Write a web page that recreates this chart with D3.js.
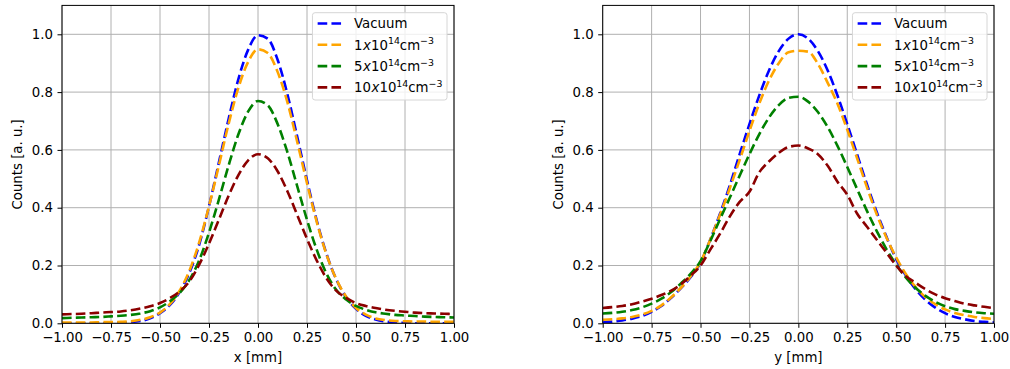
<!DOCTYPE html>
<html>
<head>
<meta charset="utf-8">
<script src="https://cdn.jsdelivr.net/npm/d3@7"></script>
<style>
  body { margin: 0; background: #fff; }
  svg { display: block; font-family: "DejaVu Sans", sans-serif; }
</style>
</head>
<body>
<div id="chart"></div>
<script>
// sample positions [mm], shared by both profiles
const positions = [
  -1.00, -0.95, -0.90, -0.85, -0.80, -0.75, -0.70, -0.65, -0.60, -0.55,
  -0.50, -0.45, -0.40, -0.35, -0.30, -0.25, -0.20, -0.15, -0.10, -0.05,
  0.00,
  0.05, 0.10, 0.15, 0.20, 0.25, 0.30, 0.35, 0.40, 0.45, 0.50,
  0.55, 0.60, 0.65, 0.70, 0.75, 0.80, 0.85, 0.90, 0.95, 1.00
];

// x profile (left panel)
const xVacuum = [
  0, 0, 0, 0, 0, 0.001, 0.002, 0.004, 0.008, 0.017,
  0.035, 0.063, 0.108, 0.175, 0.272, 0.405, 0.555, 0.707, 0.845, 0.947,
  0.997,
  0.985, 0.912, 0.793, 0.646, 0.495, 0.355, 0.239, 0.151, 0.09, 0.05,
  0.026, 0.013, 0.006, 0.003, 0.001, 0, 0, 0, 0, 0
];
const xDensity1 = [
  0.003, 0.003, 0.003, 0.003, 0.004, 0.004, 0.005, 0.007, 0.012, 0.021,
  0.037, 0.066, 0.113, 0.182, 0.28, 0.405, 0.545, 0.69, 0.815, 0.905,
  0.948,
  0.935, 0.87, 0.765, 0.628, 0.485, 0.35, 0.237, 0.152, 0.092, 0.053,
  0.03, 0.017, 0.011, 0.008, 0.007, 0.006, 0.006, 0.005, 0.005, 0.005
];
const xDensity5 = [
  0.018, 0.019, 0.02, 0.021, 0.022, 0.024, 0.026, 0.029, 0.034, 0.042,
  0.055, 0.076, 0.105, 0.15, 0.218, 0.314, 0.427, 0.546, 0.654, 0.733,
  0.769,
  0.754, 0.69, 0.592, 0.475, 0.358, 0.254, 0.171, 0.115, 0.082, 0.06,
  0.047, 0.038, 0.033, 0.029, 0.027, 0.025, 0.023, 0.022, 0.021, 0.02
];
const xDensity10 = [
  0.031, 0.032, 0.033, 0.035, 0.037, 0.039, 0.041, 0.045, 0.051, 0.059,
  0.07, 0.087, 0.11, 0.145, 0.203, 0.276, 0.358, 0.441, 0.513, 0.564,
  0.585,
  0.571, 0.526, 0.457, 0.375, 0.292, 0.217, 0.155, 0.112, 0.088, 0.07,
  0.06, 0.053, 0.047, 0.043, 0.04, 0.037, 0.035, 0.034, 0.033, 0.032
];

// y profile (right panel)
const yVacuum = [
  0.003, 0.006, 0.01, 0.016, 0.025, 0.04, 0.06, 0.088, 0.122, 0.16,
  0.21, 0.29, 0.38, 0.478, 0.585, 0.689, 0.788, 0.875, 0.942, 0.985,
  1.0,
  0.985, 0.942, 0.875, 0.788, 0.689, 0.585, 0.482, 0.386, 0.3, 0.222,
  0.165, 0.117, 0.081, 0.054, 0.035, 0.022, 0.014, 0.008, 0.005, 0.003
];
const yDensity1 = [
  0.012, 0.014, 0.017, 0.022, 0.03, 0.043, 0.062, 0.09, 0.123, 0.163,
  0.212, 0.29, 0.376, 0.468, 0.565, 0.665, 0.76, 0.84, 0.9, 0.938,
  0.943,
  0.94, 0.898, 0.832, 0.76, 0.67, 0.572, 0.472, 0.378, 0.297, 0.228,
  0.17, 0.125, 0.09, 0.066, 0.048, 0.036, 0.028, 0.022, 0.018, 0.015
];
const yDensity5 = [
  0.034, 0.036, 0.04, 0.046, 0.055, 0.068, 0.085, 0.108, 0.138, 0.172,
  0.215, 0.285, 0.361, 0.435, 0.511, 0.585, 0.654, 0.712, 0.755, 0.78,
  0.784,
  0.767, 0.731, 0.679, 0.614, 0.541, 0.465, 0.39, 0.32, 0.257, 0.203,
  0.158, 0.122, 0.095, 0.074, 0.059, 0.049, 0.043, 0.038, 0.035, 0.033
];
const yDensity10 = [
  0.053, 0.056, 0.06, 0.066, 0.075, 0.085, 0.098, 0.113, 0.135, 0.165,
  0.2, 0.255, 0.31, 0.37, 0.42, 0.455, 0.522, 0.56, 0.59, 0.61,
  0.615,
  0.605, 0.585, 0.545, 0.49, 0.445, 0.38, 0.335, 0.29, 0.245, 0.2,
  0.163, 0.14, 0.118, 0.1, 0.087, 0.077, 0.068, 0.062, 0.057, 0.052
];

const xTicks = [-1, -0.75, -0.5, -0.25, 0, 0.25, 0.5, 0.75, 1];
const yTicks = [0, 0.2, 0.4, 0.6, 0.8, 1.0];

// legend labels as tokens: [text, style]
const legendLabels = [
  [['Vacuum', '']],
  [['1', ''], ['x', 'it'], ['10', ''], ['14', 'sup'], ['cm', ''], ['\u22123', 'sup']],
  [['5', ''], ['x', 'it'], ['10', ''], ['14', 'sup'], ['cm', ''], ['\u22123', 'sup']],
  [['10', ''], ['x', 'it'], ['10', ''], ['14', 'sup'], ['cm', ''], ['\u22123', 'sup']]
];
const colors = ['blue', 'orange', 'green', 'darkred'];

const panels = [
  { left: 62, right: 454, xLabel: 'x [mm]', series: [xVacuum, xDensity1, xDensity5, xDensity10] },
  { left: 602.7, right: 994, xLabel: 'y [mm]', series: [yVacuum, yDensity1, yDensity5, yDensity10] }
];

const dims = { width: 1010, height: 369 };
const plotTop = 5.4;
const plotBottom = 323.3;
const fontSize = 13.3;

const svg = d3.select('#chart')
  .append('svg')
  .attr('width', dims.width)
  .attr('height', dims.height)
  .attr('viewBox', `0 0 ${dims.width} ${dims.height}`);

panels.forEach((panel, idx) => drawPanel(panel, idx));

function drawPanel(panel, idx) {
  const x = d3.scaleLinear().domain([-1, 1]).range([panel.left, panel.right]);
  const y = d3.scaleLinear().domain([0, 1.1]).range([plotBottom, plotTop]);
  const g = svg.append('g');

  // grid
  g.append('g').selectAll('line').data(xTicks).join('line')
    .attr('x1', d => x(d)).attr('x2', d => x(d))
    .attr('y1', plotTop).attr('y2', plotBottom)
    .attr('stroke', '#b0b0b0').attr('stroke-width', 1);
  g.append('g').selectAll('line').data(yTicks).join('line')
    .attr('x1', panel.left).attr('x2', panel.right)
    .attr('y1', d => y(d)).attr('y2', d => y(d))
    .attr('stroke', '#b0b0b0').attr('stroke-width', 1);

  // curves
  const clipId = `clip-${idx}`;
  svg.append('clipPath').attr('id', clipId)
    .append('rect')
    .attr('x', panel.left).attr('y', plotTop)
    .attr('width', panel.right - panel.left).attr('height', plotBottom - plotTop);

  const line = d3.line()
    .x((d, i) => x(positions[i]))
    .y(d => y(d))
    .curve(d3.curveMonotoneX);

  g.append('g').attr('clip-path', `url(#${clipId})`)
    .selectAll('path').data(panel.series).join('path')
    .attr('d', line)
    .attr('fill', 'none')
    .attr('stroke', (d, i) => colors[i])
    .attr('stroke-width', 2.6)
    .attr('stroke-dasharray', '9.6,4.2');

  // axes
  const xAxis = g.append('g')
    .attr('transform', `translate(0,${plotBottom})`)
    .call(d3.axisBottom(x).tickValues(xTicks).tickFormat(d3.format('.2f'))
      .tickSize(4.5).tickPadding(5.2).tickSizeOuter(0))
    .attr('font-size', fontSize).attr('font-family', null);
  xAxis.select('.domain').remove();
  xAxis.selectAll('line').attr('stroke-width', 1);
  xAxis.selectAll('text').attr('fill', '#000');

  const yAxis = g.append('g')
    .attr('transform', `translate(${panel.left},0)`)
    .call(d3.axisLeft(y).tickValues(yTicks).tickFormat(d3.format('.1f'))
      .tickSize(4.5).tickPadding(4.5).tickSizeOuter(0))
    .attr('font-size', fontSize).attr('font-family', null);
  yAxis.select('.domain').remove();
  yAxis.selectAll('line').attr('stroke-width', 1);
  yAxis.selectAll('text').attr('fill', '#000');

  // spines
  g.append('rect')
    .attr('x', panel.left).attr('y', plotTop)
    .attr('width', panel.right - panel.left).attr('height', plotBottom - plotTop)
    .attr('fill', 'none').attr('stroke', '#000').attr('stroke-width', 1);

  // axis labels
  g.append('text')
    .attr('x', (panel.left + panel.right) / 2).attr('y', 362)
    .attr('text-anchor', 'middle').attr('font-size', fontSize)
    .text(panel.xLabel);
  g.append('text')
    .attr('transform', `translate(${panel.left - 40},${(plotTop + plotBottom) / 2}) rotate(-90)`)
    .attr('text-anchor', 'middle').attr('font-size', fontSize)
    .text('Counts [a. u.]');

  drawLegend(panel.right);
}

function drawLegend(axRight) {
  const top = 12.7;
  const rowStep = 21.3;
  const pad = 5.2;
  const handleLen = 26;
  const textGap = 10.4;
  const lg = svg.append('g');
  const box = lg.append('rect');
  const rows = lg.append('g');

  const texts = [];
  legendLabels.forEach((tokens, i) => {
    const cy = top + 10.8 + i * rowStep;
    rows.append('line')
      .attr('x1', 0).attr('x2', handleLen)
      .attr('y1', cy).attr('y2', cy)
      .attr('stroke', colors[i]).attr('stroke-width', 2.6)
      .attr('stroke-dasharray', '9.6,4.2');
    const t = rows.append('text')
      .attr('x', handleLen + textGap).attr('y', cy + 4.8)
      .attr('font-size', fontSize);
    let raised = false;
    tokens.forEach(([str, style]) => {
      const span = t.append('tspan').text(str);
      if (style === 'sup') {
        span.attr('font-size', 9.4);
        if (!raised) span.attr('dy', -5.4);
        raised = true;
      } else {
        if (raised) span.attr('dy', 5.4);
        raised = false;
        if (style === 'it') span.attr('font-style', 'italic').attr('dx', 0.6);
      }
    });
    texts.push(t);
  });

  const textWidth = d3.max(texts, t => t.node().getComputedTextLength());
  const boxWidth = pad + handleLen + textGap + textWidth + pad;
  const left = axRight - 7 - boxWidth;
  rows.attr('transform', `translate(${left + pad},0)`);
  box.attr('x', left).attr('y', top)
    .attr('width', boxWidth).attr('height', 87.3)
    .attr('rx', 2.6)
    .attr('fill', '#fff').attr('fill-opacity', 0.8)
    .attr('stroke', '#d6d6d6').attr('stroke-width', 1);
}
</script>
</body>
</html>
